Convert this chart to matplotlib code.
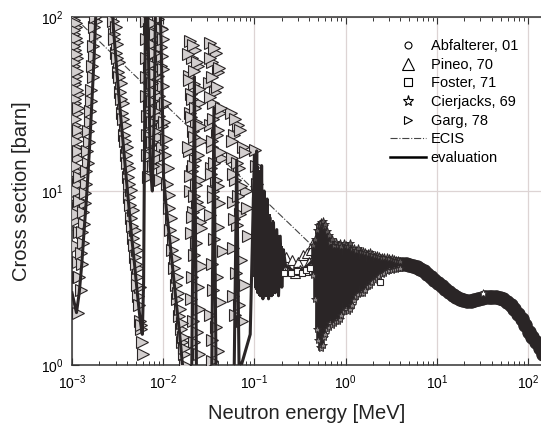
import numpy as np
import matplotlib
matplotlib.use("Agg")
import matplotlib.pyplot as plt
from matplotlib.lines import Line2D

plt.rcParams['font.family'] = ['Liberation Sans', 'DejaVu Sans']
plt.rcParams['mathtext.fontset'] = 'custom'
plt.rcParams['mathtext.rm'] = 'Liberation Sans'
plt.rcParams['mathtext.it'] = 'Liberation Sans:italic'
plt.rcParams['mathtext.bf'] = 'Liberation Sans:bold'

# ---------------- data (E in MeV, sigma in barn) ----------------

# evaluation below the unresolved region
eval_E = [1.00e-3, 1.12e-3, 1.20e-3, 1.28e-3, 1.36e-3, 1.45e-3, 1.55e-3, 1.65e-3, 1.75e-3, 1.82e-3,
          2.0e-3, 2.4e-3, 2.75e-3, 2.85e-3, 3.05e-3, 3.3e-3, 3.6e-3, 3.9e-3, 4.2e-3, 4.5e-3,
          4.85e-3, 5.2e-3, 5.6e-3, 5.9e-3, 6.1e-3, 6.3e-3, 6.5e-3, 6.9e-3, 7.2e-3, 7.6e-3,
          8.0e-3, 8.4e-3, 8.8e-3, 9.2e-3, 9.5e-3, 9.8e-3, 1.01e-2, 1.08e-2, 1.19e-2, 1.30e-2,
          1.40e-2, 1.50e-2, 1.60e-2, 1.70e-2,
          0.0205, 0.0220, 0.0232, 0.034, 0.036, 0.038, 0.060, 0.064, 0.068, 0.090,
          0.100, 0.103, 0.106, 0.109, 0.112, 0.116, 0.120, 0.124, 0.128, 0.133, 0.138,
          0.143, 0.149, 0.155, 0.162, 0.169, 0.176, 0.184, 0.192, 0.200, 0.208,
          0.22, 0.26, 0.30, 0.34, 0.38, 0.42]
eval_xs = [2.6, 2.0, 2.6, 3.8, 6.0, 9.5, 17, 32, 60, 100,
           300, 300, 120, 85, 55, 33, 20, 12.5, 8.2, 5.5,
           3.8, 2.6, 1.8, 1.5, 3.0, 40, 300, 60, 14, 10,
           30, 300, 300, 130, 70, 30, 12, 8, 5, 3.2,
           2.2, 1.6, 1.1, 0.8,
           0.8, 45, 0.8, 0.8, 30, 0.8, 0.9, 15, 0.9, 1.5,
           16, 2.8, 17, 2.6, 13, 2.5, 14, 2.4, 10, 2.5, 9,
           2.4, 7, 2.5, 6.6, 2.6, 6.0, 2.5, 5.5, 2.8, 4.6,
           3.7, 3.5, 3.6, 3.5, 3.7, 3.9]

# resonance cluster near 0.1 MeV: upper and lower envelope
cl_E = [0.100, 0.102, 0.104, 0.106, 0.108, 0.110, 0.112, 0.115, 0.118, 0.121,
        0.124, 0.127, 0.130, 0.134, 0.138, 0.142, 0.146, 0.150, 0.155, 0.160,
        0.165, 0.170, 0.176, 0.182, 0.188, 0.194, 0.200, 0.207]
cl_top = [16, 14, 17, 15, 13, 14, 12, 11, 12, 10,
          9.5, 10, 8.5, 8, 7.5, 7.2, 7.0, 7.4, 6.6, 6.8,
          6.2, 6.0, 5.8, 5.6, 5.3, 5.0, 4.8, 4.5]
cl_bot = [3.2, 2.9, 2.7, 2.8, 2.6, 2.7, 2.5, 2.6, 2.5, 2.6,
          2.5, 2.6, 2.45, 2.5, 2.45, 2.5, 2.5, 2.45, 2.5, 2.5,
          2.6, 2.55, 2.6, 2.7, 2.8, 3.0, 3.2, 3.5]

# fluctuating region: upper and lower envelope
dense_E = [0.44, 0.46, 0.48, 0.50, 0.52, 0.54, 0.56, 0.58, 0.60, 0.62, 0.65, 0.68, 0.71, 0.74,
           0.78, 0.82, 0.86, 0.90, 0.95, 1.00, 1.05, 1.11, 1.17, 1.24, 1.31, 1.38, 1.46, 1.55,
           1.64, 1.74, 1.85, 1.96, 2.08, 2.21, 2.35, 2.50, 2.66, 2.83, 3.0, 3.2, 3.4, 3.6, 3.8, 4.0]
dense_top = [4.9, 5.3, 6.0, 6.4, 6.5, 6.6, 6.7, 6.3, 6.5, 5.9, 5.6, 5.1, 5.3, 4.9,
             5.1, 4.9, 5.0, 4.8, 5.0, 4.9, 4.8, 5.0, 4.7, 4.7, 4.6, 4.7, 4.5, 4.5,
             4.45, 4.4, 4.45, 4.35, 4.3, 4.3, 4.25, 4.2, 4.2, 4.15, 4.1, 4.1, 4.05, 4.0, 4.0, 3.95]
dense_bot = [3.3, 2.4, 1.6, 1.4, 1.27, 1.25, 1.3, 1.45, 1.5, 1.6, 1.65, 1.75, 1.7, 1.75,
             1.8, 1.78, 1.85, 1.95, 2.05, 2.1, 2.05, 2.1, 2.2, 2.35, 2.5, 2.55, 2.6, 2.6,
             2.7, 2.85, 2.9, 3.0, 3.1, 3.15, 3.25, 3.35, 3.4, 3.45, 3.5, 3.5, 3.55, 3.55, 3.6, 3.6]

# smooth part (Abfalterer band)
smooth_E = [3.8, 4.2, 4.6, 5.0, 5.5, 6.0, 6.6, 7.2, 7.9, 8.6, 9.4, 10.3, 11.3, 12.4, 13.6,
            14.9, 16.3, 17.9, 19.6, 21.5, 23.5, 25.8, 28.3, 31.0, 34.0, 37.2, 40.8, 44.7,
            49.0, 53.7, 58.8, 64.5, 70.7, 77.5, 85, 93, 102, 112, 123, 135, 148]
smooth_xs = [3.80, 3.80, 3.79, 3.76, 3.72, 3.67, 3.58, 3.47, 3.33, 3.20, 3.08, 2.97, 2.86, 2.75, 2.63,
             2.53, 2.45, 2.39, 2.35, 2.34, 2.34, 2.37, 2.40, 2.43, 2.45, 2.46, 2.46, 2.45,
             2.42, 2.38, 2.31, 2.21, 2.09, 1.96, 1.83, 1.69, 1.55, 1.45, 1.35, 1.25, 1.15]

ecis_E = [1.05e-3, 0.44, 0.6, 1.0, 3.0, 10, 20, 50, 100, 139]
ecis_xs = [100, 4.8, 4.4, 4.1, 3.85, 2.95, 2.35, 2.42, 1.56, 1.25]

garg_E = [1.06e-3, 1.12e-3, 1.05e-3, 1.13e-3, 1.07e-3, 1.14e-3, 1.06e-3, 1.12e-3, 1.08e-3, 1.15e-3,
          1.07e-3, 1.13e-3, 1.09e-3, 1.16e-3, 1.10e-3, 1.15e-3, 1.11e-3, 1.17e-3, 1.12e-3, 1.16e-3,
          1.13e-3, 1.18e-3, 1.14e-3, 1.17e-3, 1.15e-3, 1.16e-3,
          1.24e-3, 1.28e-3, 1.32e-3, 1.36e-3, 1.40e-3, 1.44e-3, 1.49e-3, 1.54e-3, 1.58e-3, 1.63e-3,
          1.68e-3, 1.73e-3, 1.78e-3, 1.83e-3,
          2.80e-3, 2.92e-3, 3.05e-3, 3.20e-3, 3.36e-3, 3.52e-3, 3.70e-3, 3.88e-3, 4.07e-3, 4.27e-3,
          4.47e-3, 4.68e-3, 4.90e-3, 5.12e-3, 5.36e-3, 5.55e-3, 5.75e-3, 5.85e-3, 5.95e-3,
          3.0e-3, 3.15e-3, 3.3e-3, 3.48e-3, 3.66e-3, 3.85e-3, 4.05e-3, 4.25e-3, 4.45e-3, 4.66e-3,
          4.88e-3, 5.1e-3, 5.3e-3, 5.5e-3,
          6.4e-3, 7.0e-3, 6.5e-3, 7.1e-3, 6.4e-3, 7.0e-3, 6.5e-3, 7.1e-3, 6.5e-3, 7.0e-3,
          6.6e-3, 7.1e-3, 6.6e-3, 7.2e-3, 6.7e-3, 7.2e-3, 6.8e-3,
          8.7e-3, 9.4e-3, 8.8e-3, 9.5e-3, 8.7e-3, 9.4e-3, 8.8e-3, 9.5e-3, 8.9e-3, 9.6e-3,
          8.9e-3, 9.6e-3, 9.0e-3, 9.7e-3, 9.1e-3, 9.7e-3, 9.2e-3,
          9.6e-3, 9.7e-3, 9.9e-3, 1.02e-2, 1.06e-2, 1.10e-2, 1.15e-2, 1.20e-2, 1.26e-2, 1.31e-2,
          1.37e-2, 1.43e-2, 1.50e-2, 1.56e-2, 1.62e-2, 1.68e-2, 1.74e-2,
          0.0195, 0.0225, 0.0205, 0.0240, 0.0190, 0.0220, 0.0200, 0.0250, 0.0195, 0.0230,
          0.0210, 0.0260, 0.0190, 0.0225, 0.0205, 0.0245, 0.0195, 0.0235, 0.0210, 0.0255,
          0.0200, 0.0230, 0.0215, 0.0265, 0.0205, 0.0240, 0.0200, 0.0250, 0.0210, 0.0235,
          0.0215, 0.0245,
          0.0330, 0.0380, 0.0340, 0.0400, 0.0320, 0.0370, 0.0350, 0.0420, 0.0330, 0.0390,
          0.0345, 0.0440, 0.0335, 0.0380, 0.0355, 0.0410, 0.0330, 0.0400, 0.0360, 0.0450,
          0.0340, 0.0390, 0.0350, 0.0420, 0.0330, 0.0380, 0.0345, 0.0400, 0.0340,
          0.056, 0.066, 0.060, 0.075, 0.057, 0.068, 0.062, 0.080, 0.058, 0.070,
          0.064, 0.085, 0.059, 0.072, 0.063, 0.078, 0.058, 0.068, 0.062, 0.074,
          0.101, 0.104, 0.107, 0.110, 0.114, 0.118,
          # second pass through the same resonances
          1.10e-3, 1.04e-3, 1.11e-3, 1.05e-3, 1.12e-3, 1.06e-3, 1.13e-3, 1.07e-3, 1.14e-3, 1.08e-3,
          1.15e-3, 1.09e-3, 1.16e-3, 1.10e-3, 1.17e-3, 1.12e-3, 1.18e-3, 1.13e-3, 1.19e-3, 1.14e-3,
          1.20e-3, 1.25e-3, 1.29e-3, 1.33e-3, 1.38e-3, 1.42e-3, 1.47e-3, 1.51e-3, 1.56e-3, 1.61e-3,
          1.66e-3, 1.71e-3, 1.76e-3, 1.81e-3,
          2.90e-3, 3.1e-3, 3.25e-3, 3.42e-3, 3.6e-3, 3.78e-3, 3.97e-3, 4.17e-3, 4.37e-3, 4.57e-3,
          4.78e-3, 5.0e-3, 5.2e-3, 5.42e-3, 5.65e-3,
          7.5e-3, 8.1e-3, 7.6e-3, 8.0e-3, 7.4e-3, 8.1e-3, 7.5e-3, 8.0e-3, 7.6e-3, 8.2e-3,
          7.5e-3, 8.1e-3, 7.6e-3, 8.2e-3, 7.7e-3,
          9.9e-3, 1.0e-2, 1.04e-2, 1.08e-2, 1.12e-2, 1.17e-2, 1.23e-2, 1.28e-2, 1.34e-2, 1.40e-2,
          1.46e-2, 1.53e-2, 1.59e-2, 1.65e-2, 1.71e-2,
          0.0210, 0.0185, 0.0235, 0.0215, 0.0190, 0.0245, 0.0205, 0.0225, 0.0200, 0.0255,
          0.0215, 0.0185, 0.0240, 0.0210, 0.0195, 0.0230, 0.0215, 0.0250, 0.0205, 0.0260,
          0.0360, 0.0325, 0.0410, 0.0345, 0.0385, 0.0330, 0.0430, 0.0355, 0.0395, 0.0340,
          0.0420, 0.0365, 0.0335, 0.0400, 0.0350,
          0.061, 0.070, 0.057, 0.078, 0.064, 0.059, 0.072, 0.066, 0.082, 0.060]
garg_xs = [96, 88, 80, 72, 65, 58, 52, 46, 41, 36,
           32, 28, 24, 21, 18, 15.5, 13, 11, 9.5, 8,
           6.8, 5.8, 4.8, 3.9, 3.2, 2.0,
           2.7, 3.8, 5.0, 6.5, 8.5, 11, 14.5, 19, 25, 33,
           45, 60, 78, 95,
           95, 80, 62, 48, 37, 28, 21, 16, 12, 9.2,
           7.0, 5.4, 4.2, 3.2, 2.5, 1.8, 1.6, 1.35, 1.15,
           88, 70, 55, 42, 32, 24, 18, 13.5, 10.2, 7.8,
           6.0, 4.6, 3.6, 2.8,
           95, 85, 75, 66, 58, 51, 45, 40, 35, 31,
           27, 24, 21, 18.5, 16, 14, 12,
           97, 86, 76, 67, 59, 52, 46, 40, 35, 31,
           27, 23.5, 20.5, 18, 15.5, 13.5, 11.5,
           85, 60, 40, 25, 16, 11, 8.0, 6.0, 4.6, 3.6,
           2.9, 2.4, 1.9, 1.6, 1.35, 1.15, 1.0,
           73, 65, 58, 52, 46, 41, 36, 32, 28, 25,
           22, 19.5, 17, 15, 13, 11.5, 10, 8.7, 7.6, 6.6,
           5.7, 5.0, 4.3, 3.7, 3.2, 2.8, 2.4, 2.1, 1.8, 1.55,
           1.35, 1.15,
           71, 62, 55, 48, 42, 37, 32, 28, 24, 21,
           18, 15.5, 13.5, 11.5, 10, 8.5, 7.3, 6.2, 5.3, 4.5,
           3.8, 3.2, 2.7, 2.3, 1.95, 1.65, 1.4, 1.2, 1.05,
           28, 24, 21, 18, 15.5, 13.5, 11.5, 10, 8.6, 7.4,
           6.4, 5.5, 4.7, 4.0, 3.4, 2.9, 2.5, 2.2, 1.95, 1.8,
           17.2, 14, 11, 8.5, 6.5, 5.0,
           92, 84, 76, 68, 61, 55, 49, 43, 38, 34,
           30, 26, 22.5, 19.5, 17, 14, 12, 10, 8.8, 7.4,
           3.2, 4.4, 5.8, 7.6, 9.8, 13, 17, 22, 29, 38,
           52, 68, 88, 100,
           75, 58, 45, 34, 26, 19.5, 14.5, 11, 8.3, 6.3,
           4.9, 3.8, 2.9, 2.2, 1.7,
           92, 80, 70, 62, 54, 47, 42, 37, 33, 29,
           25, 22, 19, 16.5, 14,
           75, 50, 32, 20, 13.5, 9.5, 7, 5.3, 4.1, 3.2,
           2.6, 2.1, 1.75, 1.45, 1.25,
           69, 61, 55, 49, 43.5, 38.5, 34, 30, 26.5, 23.5,
           20.5, 18, 16, 14, 12.2, 10.8, 9.3, 8.1, 7.1, 6.1,
           66, 58, 51, 45, 39.5, 34.5, 30, 26, 22.5, 19.5,
           16.8, 14.5, 12.5, 10.7, 9.2,
           26, 22.5, 19.5, 16.8, 14.5, 12.5, 10.7, 9.3, 8.0, 6.9]

pineo_E = [0.20, 0.22, 0.24, 0.26, 0.28, 0.30, 0.32, 0.34, 0.36, 0.38, 0.40, 0.42, 0.44]
pineo_xs = [3.6, 4.2, 3.5, 4.0, 3.4, 3.9, 3.5, 4.3, 3.5, 4.4, 3.9, 4.6, 5.0]

foster_E = [0.21, 0.25, 0.29, 0.33, 0.37, 0.41, 2.4]
foster_xs = [3.4, 3.4, 3.45, 3.4, 3.5, 3.6, 3.0]

cierjacks_E = [31.8]
cierjacks_xs = [2.6]

labels = ['Abfalterer, 01', 'Pineo, 70', 'Foster, 71', 'Cierjacks, 69', 'Garg, 78', 'ECIS', 'evaluation']

# ---------------- plot ----------------
dark = '#2a2526'
gray = '#d3cfcf'

fig = plt.figure(figsize=(5.41, 4.26), dpi=100)
ax = fig.add_axes([72 / 541, 1 - 365 / 426, 469 / 541, 348 / 426])
ax.set_xscale('log')
ax.set_yscale('log')

ax.plot(ecis_E, ecis_xs, ls='-.', color='#444444', lw=0.8, zorder=2)

ax.plot(garg_E, garg_xs, ls='none', marker='>', ms=8.5, mfc=gray, mec=dark, mew=0.8, zorder=3)
ax.plot(eval_E, eval_xs, color=dark, lw=2.2, zorder=4)

# resonance cluster and fluctuating region: evaluation runs between the envelopes
ax.vlines(cl_E, cl_bot, cl_top, color=dark, lw=1.4, zorder=4)
zig_E = []
zig_xs = []
for e, t, b in zip(dense_E, dense_top, dense_bot):
    zig_E += [e, e]
    zig_xs += [t, b]
ax.vlines(dense_E, dense_bot, dense_top, color=dark, lw=2.6, zorder=4)
ax.plot(zig_E, zig_xs, color=dark, lw=1.2, zorder=4)
ax.plot(dense_E, dense_top, ls='none', marker='*', ms=6, mfc='#5a5555', mec=dark, mew=0.6, zorder=5)
ax.plot(dense_E, dense_bot, ls='none', marker='*', ms=6, mfc='#8a8586', mec=dark, mew=0.6, zorder=5)

ax.plot(pineo_E, pineo_xs, ls='none', marker='^', ms=7.5, mfc='white', mec=dark, mew=0.8, zorder=3)
ax.plot(foster_E, foster_xs, ls='none', marker='s', ms=5, mfc='white', mec=dark, mew=0.8, zorder=5)

ax.plot(smooth_E, smooth_xs, ls='none', marker='o', ms=9.5, mfc=dark, mec=dark, zorder=4)
ax.plot(smooth_E, smooth_xs, color=dark, lw=2, zorder=4)
ax.plot(cierjacks_E, cierjacks_xs, ls='none', marker='*', ms=6, mfc='white', mec=dark, mew=0.5, zorder=6)

ax.set_xlim(1e-3, 139)
ax.set_ylim(1, 100)

ax.grid(True, which='major', color='#ddd4d4', lw=0.9)
ax.set_axisbelow(True)
ax.tick_params(which='both', direction='in', top=True, right=False, labelsize=10,
               color='#333333', pad=6)
ax.tick_params(which='major', length=5, width=0.8)
ax.tick_params(which='minor', length=3, width=0.7)
for s in ['left', 'bottom', 'top']:
    ax.spines[s].set_linewidth(1.1)
    ax.spines[s].set_color('#333333')
ax.spines['right'].set_visible(False)

ax.set_xlabel('Neutron energy [MeV]', fontsize=14.5, color='#222222', labelpad=9)
ax.set_ylabel('Cross section [barn]', fontsize=14.5, color='#222222', labelpad=7)

handles = [
    Line2D([], [], ls='none', marker='o', ms=5, mfc='white', mec='k', mew=0.8),
    Line2D([], [], ls='none', marker='^', ms=9, mfc='white', mec='k', mew=0.8),
    Line2D([], [], ls='none', marker='s', ms=6, mfc='white', mec='k', mew=0.8),
    Line2D([], [], ls='none', marker='*', ms=8, mfc='white', mec='k', mew=0.8),
    Line2D([], [], ls='none', marker='>', ms=6, mfc='white', mec='k', mew=0.8),
    Line2D([], [], ls='-.', color='#444444', lw=0.8),
    Line2D([], [], ls='-', color='k', lw=1.8),
]
ax.legend(handles, labels, loc='upper left', bbox_to_anchor=(390 / 541, 1 - 39 / 426),
          bbox_transform=fig.transFigure, frameon=False, fontsize=10.5, handlelength=2.5,
          handletextpad=0.3, labelspacing=0.32, borderpad=0, borderaxespad=0)

fig.savefig('out.png', dpi=100)
